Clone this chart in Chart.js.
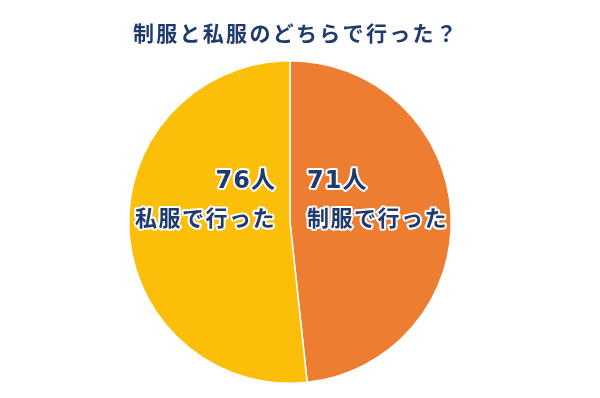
<!DOCTYPE html>
<html>
<head>
<meta charset="utf-8">
<script src="https://cdn.jsdelivr.net/npm/chart.js@4"></script>
<style>
  html, body { margin: 0; padding: 0; background: #fff; }
  #wrap { width: 600px; height: 398px; }
</style>
</head>
<body>
<div id="wrap"><canvas id="c"></canvas></div>
<script>
const titleText = "制服と私服のどちらで行った？";
const categories = ["制服で行った", "私服で行った"];
const counts = [71, 76];
const unit = "人";
const colors = ["#ED7D31", "#FBBF0A"];

const FONT = "'Noto Sans CJK JP', 'Noto Sans', sans-serif";
const NUM_FONT = "'DejaVu Sans', 'Noto Sans CJK JP', sans-serif";
const NAVY = "#1F3B6E";

// title plus the labels beside the dividing line
const sliceLabels = {
  id: "sliceLabels",
  afterDatasetsDraw(chart) {
    const ctx = chart.ctx;
    const arc = chart.getDatasetMeta(0).data[0];
    const cx = arc.x, cy = arc.y;
    ctx.save();
    ctx.fillStyle = NAVY;
    ctx.textBaseline = "middle";

    ctx.font = "bold 21px " + FONT;
    ctx.letterSpacing = "2.3px";
    ctx.textAlign = "center";
    ctx.fillText(titleText, 296, 33);

    ctx.strokeStyle = "#fff";
    ctx.lineWidth = 4;
    ctx.lineJoin = "round";
    counts.forEach((v, i) => {
      const right = i === 0;
      ctx.textAlign = right ? "left" : "right";
      const x = right ? cx + 17 : cx - 14;
      ctx.letterSpacing = "1px";
      ctx.font = "bold 24px " + NUM_FONT;
      ctx.strokeText(v + unit, x, cy - 40);
      ctx.fillText(v + unit, x, cy - 40);
      ctx.letterSpacing = "1.5px";
      ctx.font = "bold 22px " + FONT;
      ctx.strokeText(categories[i], x, cy - 4);
      ctx.fillText(categories[i], x, cy - 4);
    });
    ctx.restore();
  }
};

new Chart(document.getElementById("c"), {
  type: "pie",
  data: {
    labels: categories,
    datasets: [{
      data: counts,
      backgroundColor: colors,
      borderColor: "#fff",
      borderWidth: 1.5,
    }],
  },
  options: {
    responsive: true,
    maintainAspectRatio: false,
    animation: false,
    layout: { padding: { left: 0, right: 20, top: 60, bottom: 14 } },
    plugins: {
      legend: { display: false },
      tooltip: { enabled: false },
      title: { display: false },
    },
  },
  plugins: [sliceLabels],
});
</script>
</body>
</html>
